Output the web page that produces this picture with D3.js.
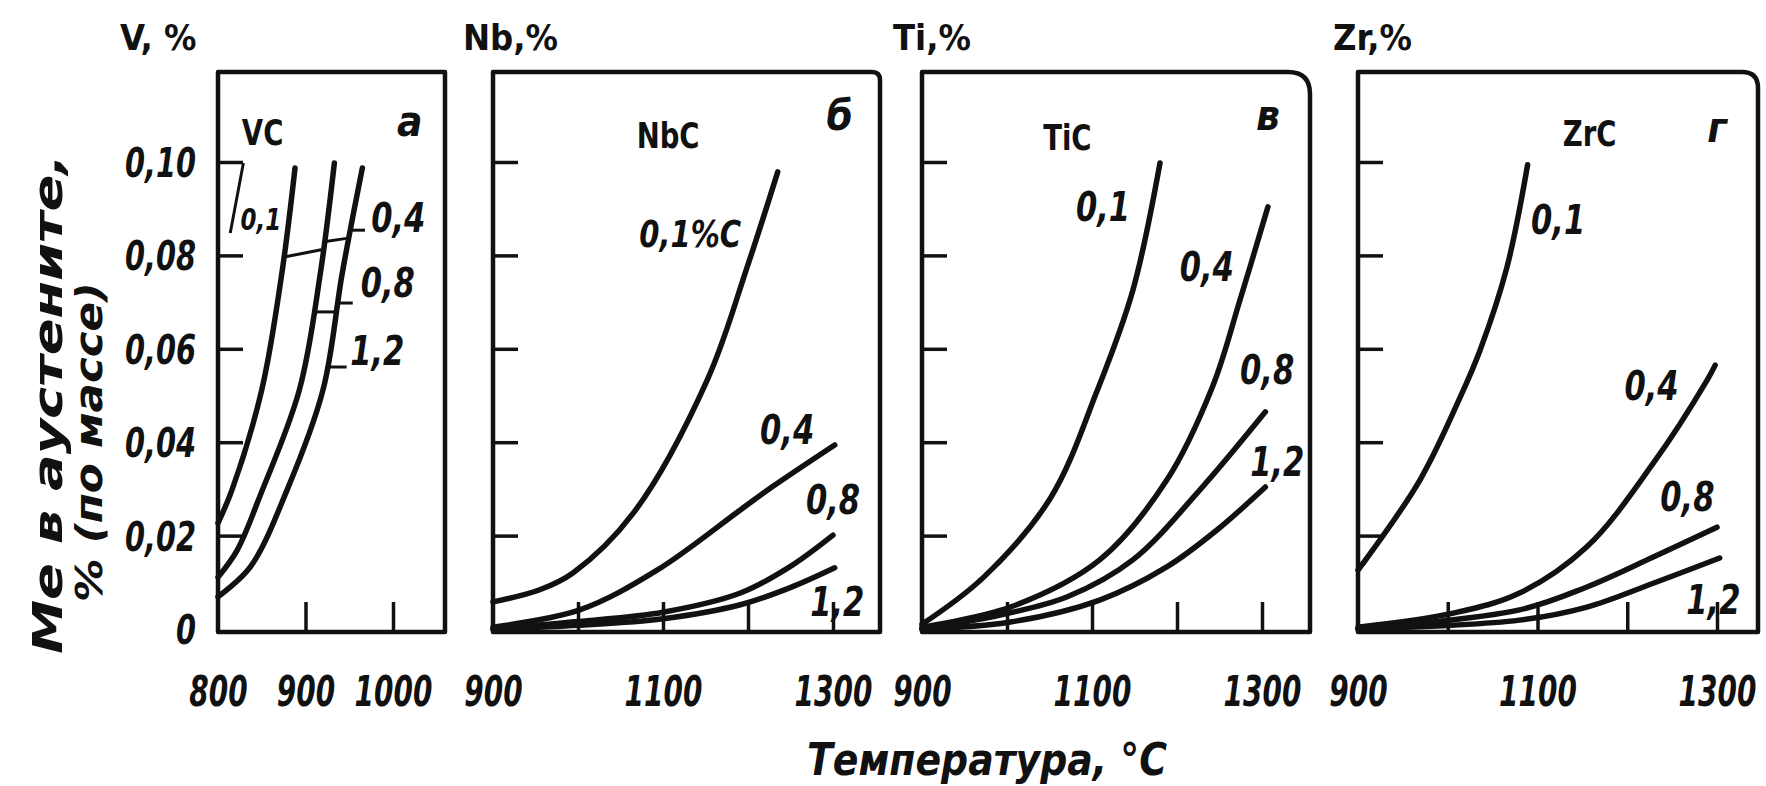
<!DOCTYPE html>
<html>
<head>
<meta charset="utf-8">
<script src="https://cdn.jsdelivr.net/npm/d3@7"></script>
<style>
  body { margin: 0; background: #fff; }
  svg text { font-family: "DejaVu Sans Condensed", "DejaVu Sans", sans-serif; fill: #111; font-weight: bold; }
</style>
</head>
<body>
<div id="chart"></div>
<script>
// ---- values: temperature, °C  ->  Me in austenite, % by mass ----

// V panel (VC)
var vcCurve1 = [[800, 0.0227], [816, 0.0298], [850, 0.0512], [873, 0.0762], [888, 0.0987]];
var vcCurve2 = [[800, 0.0111], [822, 0.0169], [848, 0.0285], [893, 0.0512], [917, 0.0762], [933, 0.0998]];
var vcCurve3 = [[800, 0.0069], [837, 0.0133], [879, 0.0298], [920, 0.0512], [942, 0.0762], [965, 0.0987]];
var vcBranch01 = [[814, 0.0848], [829, 0.0998]];
var vcLinks = [
  [[877, 0.0797], [918, 0.0812]],
  [[921, 0.0829], [949, 0.0837]],
  [[909, 0.0679], [935, 0.0679]],
  [[952, 0.0854], [968, 0.0854]],
  [[939, 0.0698], [954, 0.0698]],
  [[926, 0.0561], [947, 0.0561]]
];

// Nb panel (NbC)
var nbcCurve01 = [[900, 0.0058], [955, 0.0084], [994, 0.0120], [1065, 0.0248], [1152, 0.0533], [1199, 0.0775], [1235, 0.0979]];
var nbcCurve04 = [[900, 0.0004], [1002, 0.0041], [1093, 0.0126], [1191, 0.0255], [1229, 0.0305], [1302, 0.0394]];
var nbcCurve08 = [[900, 0.0000], [1000, 0.0016], [1100, 0.0036], [1191, 0.0077], [1249, 0.0133], [1300, 0.0201]];
var nbcCurve12 = [[900, 0.0000], [1000, 0.0008], [1100, 0.0022], [1191, 0.0052], [1249, 0.0088], [1302, 0.0131]];

// Ti panel (TiC)
var ticCurve01 = [[900, 0.0010], [972, 0.0110], [1051, 0.0280], [1106, 0.0510], [1148, 0.0725], [1180, 0.0998]];
var ticCurve04 = [[900, 0.0004], [1004, 0.0047], [1109, 0.0148], [1188, 0.0319], [1242, 0.0520], [1274, 0.0704], [1307, 0.0904]];
var ticCurve08 = [[900, 0.0000], [992, 0.0030], [1071, 0.0069], [1148, 0.0148], [1227, 0.0298], [1304, 0.0465]];
var ticCurve12 = [[900, 0.0000], [1004, 0.0015], [1109, 0.0062], [1188, 0.0133], [1247, 0.0212], [1304, 0.0304]];

// Zr panel (ZrC)
var zrcCurve01 = [[900, 0.0126], [969, 0.0319], [1014, 0.0497], [1036, 0.0597], [1066, 0.0775], [1089, 0.0994]];
var zrcCurve04 = [[900, 0.0004], [1006, 0.0034], [1080, 0.0077], [1155, 0.0176], [1229, 0.0355], [1289, 0.0533], [1298, 0.0565]];
var zrcCurve08 = [[900, 0.0000], [1080, 0.0041], [1155, 0.0090], [1229, 0.0154], [1300, 0.0218]];
var zrcCurve12 = [[900, 0.0000], [1080, 0.0019], [1155, 0.0047], [1229, 0.0098], [1303, 0.0152]];
var zrcLeader = [[928, 0.0201], [906, 0.0137]];

// ticks and texts
var yTicks = [0, 0.02, 0.04, 0.06, 0.08, 0.10];
var vTickMarks = [900, 1000];
var vTickLabels = [800, 900, 1000];
var tickMarks = [1000, 1100, 1200, 1300];
var tickLabels = [900, 1100, 1300];
var headers = ["V, %", "Nb,%", "Ti,%", "Zr,%"];
var phases = ["VC", "NbC", "TiC", "ZrC"];
var letters = ["а", "б", "в", "г"];
var carbonLabels = ["0,1", "0,4", "0,8", "1,2"];
var carbonLabelsNb = ["0,1%C", "0,4", "0,8", "1,2"];
var yTitle = ["Me в аустените,", "% (по массе)"];
var xTitle = "Температура, °С";

// ---- layout ----
var width = 1766, height = 786;
var frameTop = 72, frameBottom = 632;
var y = d3.scaleLinear().domain([0, 0.10]).range([629, 162]);

var panels = [
  {curves: [vcCurve1, vcCurve2, vcCurve3], thin: [vcBranch01].concat(vcLinks),
   left: 218, right: 445, t: [800, 1000], px: [218, 393], corner: 0, headX: 120,
   marks: vTickMarks, ticks: vTickLabels, yLabels: true, texts: carbonLabels,
   phasePos: [851, 0.1064], letterPos: [1019, 0.1083],
   labelPos: [[849, 0.0878], [1006, 0.0880], [994, 0.0741], [982, 0.0597]], labelSize: [30, 40, 40, 40]},
  {curves: [nbcCurve01, nbcCurve04, nbcCurve08, nbcCurve12], thin: [],
   left: 493, right: 880, t: [900, 1300], px: [493, 833], corner: 8, headX: 463,
   marks: tickMarks, ticks: tickLabels, yLabels: false, texts: carbonLabelsNb,
   phasePos: [1106, 0.1058], letterPos: [1308, 0.1096],
   labelPos: [[1132, 0.0848], [1246, 0.0426], [1300, 0.0276], [1305, 0.0058]], labelSize: [38, 40, 40, 40]},
  {curves: [ticCurve01, ticCurve04, ticCurve08, ticCurve12], thin: [],
   left: 922, right: 1310, t: [900, 1300], px: [922, 1262], corner: 22, headX: 893,
   marks: tickMarks, ticks: tickLabels, yLabels: false, texts: carbonLabels,
   phasePos: [1071, 0.1054], letterPos: [1307, 0.1096],
   labelPos: [[1113, 0.0904], [1235, 0.0775], [1306, 0.0555], [1318, 0.0358]], labelSize: [40, 40, 40, 40]},
  {curves: [zrcCurve01, zrcCurve04, zrcCurve08, zrcCurve12], thin: [zrcLeader],
   left: 1358, right: 1758, t: [900, 1300], px: [1358, 1717], corner: 16, headX: 1333,
   marks: tickMarks, ticks: tickLabels, yLabels: false, texts: carbonLabels,
   phasePos: [1158, 0.1062], letterPos: [1300, 0.1069],
   labelPos: [[1123, 0.0876], [1227, 0.0522], [1267, 0.0283], [1296, 0.0062]], labelSize: [40, 40, 40, 40]}
];

var svg = d3.select("#chart")
  .append("svg")
    .attr("width", width)
    .attr("height", height)
    .style("background", "#fff");

var fmtY = function(d) { return d === 0 ? "0" : d3.format(".2f")(d).replace(".", ","); };

// the drawing font is narrow, so squeeze labels horizontally about their anchor
function squeeze(sel, k) {
  sel.each(function() {
    var t = d3.select(this);
    var x = +t.attr("x") || 0, yy = +t.attr("y") || 0;
    t.attr("transform", "translate(" + x + "," + yy + ") scale(" + k + ",1) translate(" + (-x) + "," + (-yy) + ")");
  });
}

panels.forEach(function(p, i) {
  var x = d3.scaleLinear().domain(p.t).range(p.px);
  var g = svg.append("g");

  // frame, top right corner slightly rounded as drawn
  var r = p.corner;
  g.append("path")
    .attr("d", "M" + p.left + "," + frameBottom + "V" + frameTop + "H" + (p.right - r) +
               "Q" + p.right + "," + frameTop + " " + p.right + "," + (frameTop + r) +
               "V" + frameBottom + "Z")
    .attr("fill", "none")
    .attr("stroke", "#111")
    .attr("stroke-width", 4.5)
    .attr("stroke-linejoin", "round");

  // inward tick marks on the left edge
  var yAxis = g.append("g")
    .attr("transform", "translate(" + p.left + ",0)")
    .call(d3.axisLeft(y).tickValues(yTicks.filter(function(d) { return d > 0; }))
      .tickSize(-25).tickFormat(""));
  yAxis.select(".domain").remove();
  yAxis.selectAll(".tick line").attr("stroke", "#111").attr("stroke-width", 3.5);

  if (p.yLabels) {
    var yLab = g.append("g")
      .attr("transform", "translate(" + p.left + ",0)")
      .call(d3.axisLeft(y).tickValues(yTicks).tickSize(0).tickPadding(22).tickFormat(fmtY));
    yLab.select(".domain").remove();
    yLab.selectAll("text")
      .attr("font-size", 40)
      .attr("font-style", "italic")
      .attr("font-weight", "bold")
      .attr("dy", "0.36em")
      .attr("fill", "#111")
      .attr("font-family", "DejaVu Sans Condensed, DejaVu Sans, sans-serif")
      .call(squeeze, 0.8);
  }

  // inward tick marks on the bottom edge
  var xAxis = g.append("g")
    .attr("transform", "translate(0," + frameBottom + ")")
    .call(d3.axisBottom(x).tickValues(p.marks).tickSize(-30).tickFormat(""));
  xAxis.select(".domain").remove();
  xAxis.selectAll(".tick line").attr("stroke", "#111").attr("stroke-width", 3.5);

  var xLab = g.append("g")
    .attr("transform", "translate(0," + frameBottom + ")")
    .call(d3.axisBottom(x).tickValues(p.ticks).tickSize(0).tickPadding(44).tickFormat(d3.format("d")));
  xLab.select(".domain").remove();
  xLab.selectAll("text")
    .attr("font-size", 42)
    .attr("font-style", "italic")
    .attr("font-weight", "bold")
    .attr("fill", "#111")
    .attr("font-family", "DejaVu Sans Condensed, DejaVu Sans, sans-serif")
    .call(squeeze, 0.74);

  // curves
  var line = d3.line()
    .x(function(d) { return x(d[0]); })
    .y(function(d) { return y(d[1]); })
    .curve(d3.curveCatmullRom.alpha(0.5));

  g.selectAll(".curve")
    .data(p.curves)
    .join("path")
      .attr("class", "curve")
      .attr("d", line)
      .attr("fill", "none")
      .attr("stroke", "#111")
      .attr("stroke-width", 5.5)
      .attr("stroke-linecap", "round");

  // thin connector / leader strokes
  var straight = d3.line()
    .x(function(d) { return x(d[0]); })
    .y(function(d) { return y(d[1]); });
  g.selectAll(".thin")
    .data(p.thin)
    .join("path")
      .attr("class", "thin")
      .attr("d", straight)
      .attr("fill", "none")
      .attr("stroke", "#111")
      .attr("stroke-width", 3);

  // header above the panel
  g.append("text")
    .attr("x", p.headX)
    .attr("y", 50)
    .attr("font-size", 36)
    .text(headers[i]);

  // carbide name and panel letter
  g.append("text")
    .attr("x", x(p.phasePos[0]))
    .attr("y", y(p.phasePos[1]))
    .attr("dy", "0.36em")
    .attr("text-anchor", "middle")
    .attr("font-size", 36)
    .text(phases[i])
    .call(squeeze, 0.85);

  g.append("text")
    .attr("x", x(p.letterPos[0]))
    .attr("y", y(p.letterPos[1]))
    .attr("dy", "0.3em")
    .attr("text-anchor", "middle")
    .attr("font-size", 42)
    .attr("font-style", "italic")
    .text(letters[i]);

  // carbon content labels
  g.selectAll(".clab")
    .data(p.texts)
    .join("text")
      .attr("class", "clab")
      .attr("x", function(d, k) { return x(p.labelPos[k][0]); })
      .attr("y", function(d, k) { return y(p.labelPos[k][1]); })
      .attr("dy", "0.36em")
      .attr("text-anchor", "middle")
      .attr("font-size", function(d, k) { return p.labelSize[k]; })
      .attr("font-style", "italic")
      .text(function(d) { return d; })
      .call(squeeze, 0.85);
});

// axis titles
svg.append("text")
  .attr("transform", "translate(62,404) rotate(-90)")
  .attr("text-anchor", "middle")
  .attr("font-size", 40)
  .attr("font-style", "italic")
  .attr("textLength", 500)
  .attr("lengthAdjust", "spacingAndGlyphs")
  .text(yTitle[0]);

svg.append("text")
  .attr("transform", "translate(102,442) rotate(-90)")
  .attr("text-anchor", "middle")
  .attr("font-size", 38)
  .attr("font-style", "italic")
  .attr("textLength", 320)
  .attr("lengthAdjust", "spacingAndGlyphs")
  .text(yTitle[1]);

svg.append("text")
  .attr("x", 987)
  .attr("y", 775)
  .attr("text-anchor", "middle")
  .attr("font-size", 44)
  .attr("font-style", "italic")
  .attr("textLength", 360)
  .attr("lengthAdjust", "spacingAndGlyphs")
  .text(xTitle);
</script>
</body>
</html>
